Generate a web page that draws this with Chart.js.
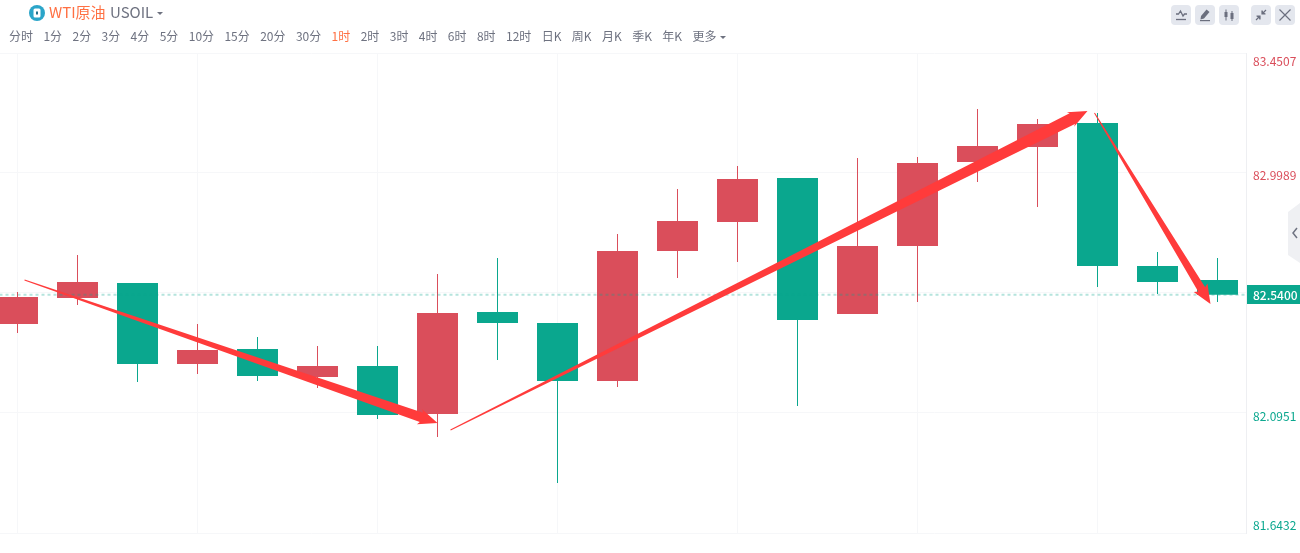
<!DOCTYPE html>
<html>
<head>
<meta charset="utf-8">
<title>WTI原油 USOIL</title>
<script src="https://cdn.jsdelivr.net/npm/chart.js@4/dist/chart.umd.min.js"></script>
<style>
    html, body { margin: 0; padding: 0; background: #fff; width: 1300px; height: 553px; overflow: hidden; }
    body { position: relative; font-family: "Noto Sans CJK SC", "Noto Sans", sans-serif; color: #6e7280; }
    #chart { position: absolute; left: 0; top: 0; }
    #logo { position: absolute; left: 29px; top: 5px; }
    #title { position: absolute; left: 49px; top: 2px; font-size: 15px; line-height: 20px; color: #ff7043; white-space: nowrap; }
    #symbol { position: absolute; left: 110px; top: 2px; font-size: 15px; line-height: 20px; white-space: nowrap; }
    .caret { position: absolute; width: 0; height: 0; border: 3px solid transparent; border-top: 3px solid #6e7280; border-bottom: 0; }
    #periods { position: absolute; left: 4px; top: 27px; display: flex; font-size: 12px; line-height: 18px; white-space: nowrap; }
    #periods span { padding: 0 5.4px 0 5px; }
    #periods .active { color: #ff7043; }
    .tool { position: absolute; top: 5px; width: 20px; height: 20px; border-radius: 4px; background: #e4e7ee; }
    #handle { position: absolute; left: 1287px; top: 203px; }
</style>
</head>
<body>
<canvas id="chart" width="1300" height="553"></canvas>

<svg id="logo" width="16" height="16" viewBox="0 0 16 16">
    <circle cx="8" cy="8" r="8" fill="#2ba5c9"/>
    <rect x="4.5" y="3.5" width="7" height="9" rx="1.5" fill="#fff"/>
    <rect x="7" y="6.5" width="2" height="3" fill="#1f6f8b"/>
</svg>
<div id="title"></div>
<div id="symbol"></div>
<div class="caret" style="left:157px;top:12px"></div>
<div id="periods"></div>
<div class="caret" style="left:720px;top:36px"></div>

<div class="tool" style="left:1171px">
    <svg width="20" height="20" fill="none" stroke="#6b6f7e" stroke-width="1.3"><path d="M5 9h2.5l2-3 2.5 5 1.5-2H16"/><path d="M5 14.5h10"/></svg>
</div>
<div class="tool" style="left:1195px">
    <svg width="20" height="20" fill="#6b6f7e"><path d="M11.5 4.5l3 2.5-5.5 6.5-3.5 1 .5-3.5z"/><rect x="5" y="15" width="10" height="1.2"/></svg>
</div>
<div class="tool" style="left:1219px">
    <svg width="20" height="20" fill="#6b6f7e" stroke="#6b6f7e"><path d="M7 4.5v11M13 6v10" stroke-width="1"/><rect x="5.5" y="7" width="3" height="5" stroke="none"/><rect x="11.5" y="8" width="3" height="6" stroke="none"/></svg>
</div>
<div class="tool" style="left:1251px">
    <svg width="20" height="20" fill="none" stroke="#6b6f7e" stroke-width="1.2"><path d="M15 5l-3.5 3.5M5 15l3.500-3.500"/><path d="M11 5.500v3.500h3.500M5.500 11H9v3.500" fill="#6b6f7e"/></svg>
</div>
<div class="tool" style="left:1275px">
    <svg width="20" height="20" fill="none" stroke="#6b6f7e" stroke-width="1.2"><path d="M4.500 4.500l11 11M15.500 4.500l-11 11"/></svg>
</div>
<svg id="handle" width="13" height="60" viewBox="0 0 13 60">
    <path d="M13 0V60L1 52V9z" fill="#eff0f3"/>
    <path d="M10 25l-4 5 4 5" fill="none" stroke="#6e7280" stroke-width="1.5"/>
</svg>

<script>
const titleText = "WTI原油";
const symbolText = "USOIL";
const periodLabels = ["分时", "1分", "2分", "3分", "4分", "5分", "10分", "15分", "20分", "30分", "1时", "2时", "3时", "4时", "6时", "8时", "12时", "日K", "周K", "月K", "季K", "年K", "更多"];
const activePeriod = "1时";

const candleIndex = [0, 1, 2, 3, 4, 5, 6, 7, 8, 9, 10, 11, 12, 13, 14, 15, 16, 17, 18, 19, 20];
const openPrices = [82.4302, 82.5281, 82.5846, 82.2796, 82.3361, 82.2306, 82.2721, 82.0913, 82.4754, 82.4340, 82.2156, 82.7051, 82.8143, 82.9800, 82.4679, 82.7239, 83.0402, 83.0967, 83.1871, 82.6486, 82.5959];
const closePrices = [82.5319, 82.5884, 82.2796, 82.3323, 82.2344, 82.2721, 82.0875, 82.4716, 82.4340, 82.2156, 82.7051, 82.8181, 82.9762, 82.4453, 82.7239, 83.0365, 83.1005, 83.1833, 82.6486, 82.5884, 82.5400];
const highPrices = [82.5507, 82.6900, 82.5846, 82.4302, 82.3813, 82.3474, 82.3474, 82.6185, 82.6787, 82.4340, 82.7691, 82.9386, 83.0252, 82.9800, 83.0553, 83.0591, 83.2398, 83.2022, 83.2248, 82.7013, 82.6787];
const lowPrices = [82.3963, 82.5018, 82.2118, 82.2419, 82.2156, 82.1892, 82.0725, 82.0047, 82.2947, 81.8315, 82.1930, 82.6034, 82.6637, 82.1214, 82.4679, 82.5131, 82.9649, 82.8708, 82.5695, 82.5432, 82.5131];

const priceTicks = [83.4507, 82.9989, 82.5470, 82.0951, 81.6432];
const timeGridIndex = [0, 3, 6, 9, 12, 15, 18];
const lastPrice = 82.5400;

// hand drawn arrows on the picture, in candle index and price
const arrowFromIndex = [0.117, 7.217, 17.95];
const arrowFromPrice = [82.5959, 82.0311, 83.2248];
const arrowToIndex = [7.0, 17.833, 19.883];
const arrowToPrice = [82.0574, 83.2323, 82.5055];

const RED = "#da4e5b";
const GREEN = "#0aa78e";
const GRID = "#f6f7f9";
const FONT = '"Noto Sans CJK SC", "Noto Sans", sans-serif';

// the source nudges its price labels away from the grid lines, pixels per tick
const TICK_LABEL_SHIFT = [8, 2, 0, 3, -8];

document.getElementById("title").textContent = titleText;
document.getElementById("symbol").textContent = symbolText;
periodLabels.forEach(label => {
    let node = document.createElement("span");
    node.textContent = label;
    if (label === activePeriod) {
        node.className = "active";
    }
    document.getElementById("periods").appendChild(node);
});

let candleColors = candleIndex.map(i => closePrices[i] >= openPrices[i] ? RED : GREEN);

/**
 * draws the three tapered arrows above the candles
 */
const arrowPlugin = {
    id: "arrows",
    afterDatasetsDraw(chart) {
        let {ctx, scales: {x, y}} = chart;
        ctx.save();
        ctx.fillStyle = "#ff3b3b";
        arrowFromIndex.forEach((_, n) => {
            let x0 = x.getPixelForValue(arrowFromIndex[n]);
            let y0 = y.getPixelForValue(arrowFromPrice[n]);
            let x1 = x.getPixelForValue(arrowToIndex[n]);
            let y1 = y.getPixelForValue(arrowToPrice[n]);
            let len = Math.hypot(x1 - x0, y1 - y0);
            let ux = (x1 - x0) / len, uy = (y1 - y0) / len;
            let nx = -uy, ny = ux;
            let neck = (6.5 + len * 0.0075) / 2;
            let headLen = 17, headHalf = 8;
            let bx = x1 - ux * headLen, by = y1 - uy * headLen;
            ctx.beginPath();
            ctx.moveTo(x0 + nx * 0.5, y0 + ny * 0.5);
            ctx.lineTo(bx + nx * neck, by + ny * neck);
            ctx.lineTo(bx + nx * headHalf - ux * 2, by + ny * headHalf - uy * 2);
            ctx.lineTo(x1, y1);
            ctx.lineTo(bx - nx * headHalf - ux * 2, by - ny * headHalf - uy * 2);
            ctx.lineTo(bx - nx * neck, by - ny * neck);
            ctx.lineTo(x0 - nx * 0.5, y0 - ny * 0.5);
            ctx.closePath();
            ctx.fill();
        });
        ctx.restore();
    }
};

/**
 * draws the price labels and the green box with the last price on the price axis
 */
const priceAxisPlugin = {
    id: "priceAxis",
    afterDraw(chart) {
        let {ctx, chartArea, scales: {y}} = chart;
        let py = Math.round(y.getPixelForValue(lastPrice));
        ctx.save();
        ctx.font = "12px " + FONT;
        ctx.textBaseline = "middle";
        y.ticks.forEach((tick, n) => {
            ctx.fillStyle = tick.value > lastPrice ? RED : GREEN;
            ctx.fillText(tick.value.toFixed(4), chartArea.right + 7, y.getPixelForValue(tick.value) + TICK_LABEL_SHIFT[n]);
        });
        ctx.fillStyle = GREEN;
        ctx.fillRect(chartArea.right + 1, py - 10, 53, 19);
        ctx.fillStyle = "#fff";
        ctx.font = "500 12px " + FONT;
        ctx.fillText(lastPrice.toFixed(4), chartArea.right + 7, py);
        ctx.restore();
    }
};

new Chart(document.getElementById("chart"), {
    type: "bar",
    data: {
        datasets: [
            {
                type: "line",
                data: [{x: -1, y: lastPrice}, {x: 22, y: lastPrice}],
                borderColor: "rgba(10,167,142,0.3)",
                borderWidth: 2,
                borderDash: [3, 3],
                pointRadius: 0
            },
            {
                data: candleIndex.map(i => ({x: i, y: [openPrices[i], closePrices[i]]})),
                backgroundColor: candleColors,
                barThickness: 41,
                inflateAmount: 0,
                grouped: false
            },
            {
                data: candleIndex.map(i => ({x: i, y: [lowPrices[i], highPrices[i]]})),
                backgroundColor: candleColors,
                barThickness: 1,
                inflateAmount: 0,
                grouped: false
            }
        ]
    },
    options: {
        responsive: false,
        animation: false,
        layout: {padding: {top: 53, bottom: 20, left: 0, right: 0}},
        plugins: {legend: {display: false}, tooltip: {enabled: false}},
        scales: {
            x: {
                type: "linear",
                offset: false,
                min: -0.2917,
                max: 20.475,
                afterBuildTicks: scale => { scale.ticks = timeGridIndex.map(v => ({value: v})); },
                afterFit: scale => { scale.height = 0; },
                ticks: {display: false},
                grid: {color: GRID, drawTicks: false, offset: false},
                border: {display: false}
            },
            y: {
                position: "right",
                min: priceTicks[priceTicks.length - 1],
                max: priceTicks[0],
                afterBuildTicks: scale => { scale.ticks = priceTicks.map(v => ({value: v})); },
                afterFit: scale => { scale.width = 54; },
                ticks: {display: false},
                grid: {color: GRID, drawTicks: false},
                border: {color: "#eeeff2"}
            }
        }
    },
    plugins: [arrowPlugin, priceAxisPlugin]
});
</script>
</body>
</html>
